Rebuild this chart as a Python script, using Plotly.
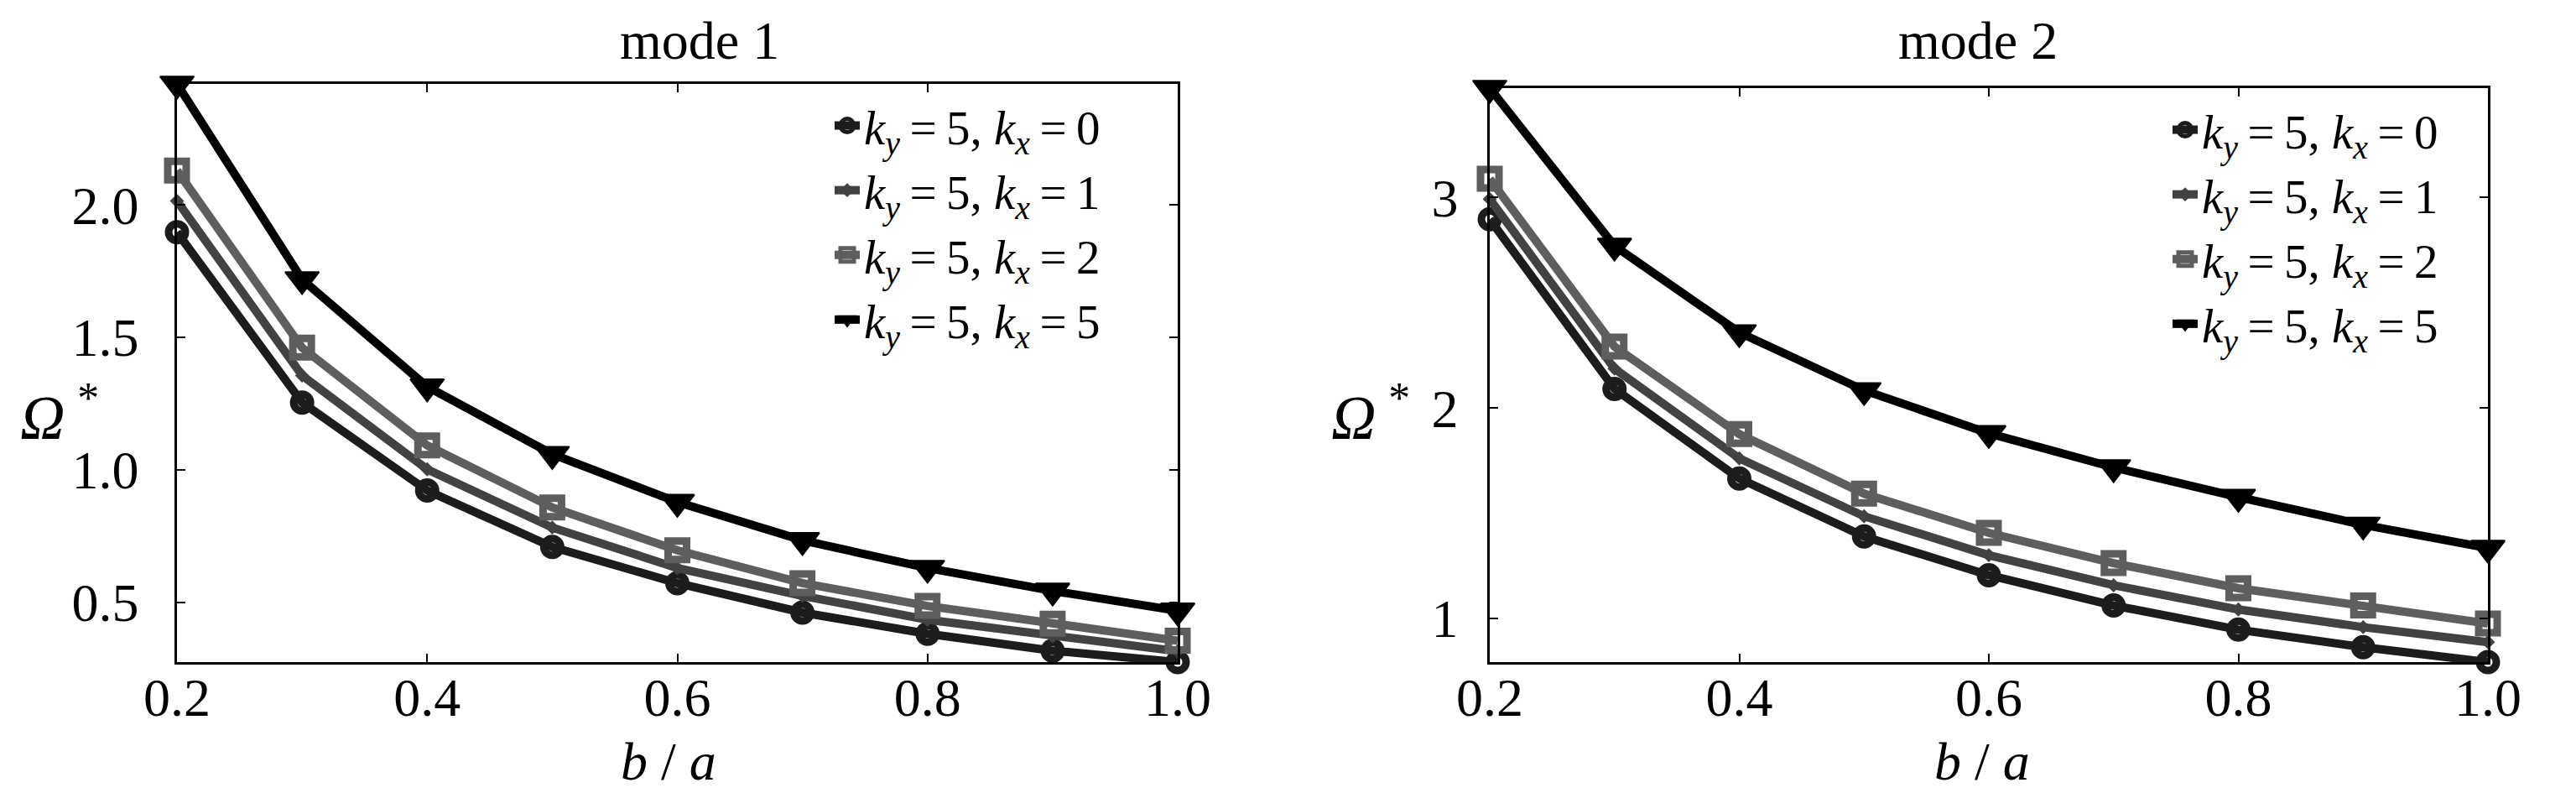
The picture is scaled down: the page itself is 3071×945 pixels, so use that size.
import plotly.graph_objects as go

# ---------------- data ----------------
b_over_a = [0.2, 0.3, 0.4, 0.5, 0.6, 0.7, 0.8, 0.9, 1.0]

TS = "\u2009"  # thin space around "="
legend_labels = [
    f"<i>k</i><sub><i>y</i></sub>{TS}={TS}5, <i>k</i><sub><i>x</i></sub>{TS}={TS}0",
    f"<i>k</i><sub><i>y</i></sub>{TS}={TS}5, <i>k</i><sub><i>x</i></sub>{TS}={TS}1",
    f"<i>k</i><sub><i>y</i></sub>{TS}={TS}5, <i>k</i><sub><i>x</i></sub>{TS}={TS}2",
    f"<i>k</i><sub><i>y</i></sub>{TS}={TS}5, <i>k</i><sub><i>x</i></sub>{TS}={TS}5",
]

mode1_k0 = [1.897, 1.254, 0.922, 0.709, 0.572, 0.461, 0.381, 0.317, 0.274]
mode1_k1 = [2.015, 1.356, 1.002, 0.782, 0.629, 0.524, 0.434, 0.371, 0.315]
mode1_k2 = [2.130, 1.461, 1.092, 0.858, 0.696, 0.572, 0.486, 0.419, 0.355]
mode1_k5 = [2.457, 1.719, 1.314, 1.059, 0.878, 0.734, 0.629, 0.543, 0.468]

mode2_k0 = [2.897, 2.091, 1.665, 1.390, 1.206, 1.062, 0.947, 0.864, 0.793]
mode2_k1 = [2.993, 2.187, 1.761, 1.486, 1.301, 1.158, 1.043, 0.959, 0.888]
mode2_k2 = [3.089, 2.292, 1.876, 1.593, 1.407, 1.263, 1.144, 1.062, 0.976]
mode2_k5 = [3.520, 2.770, 2.359, 2.084, 1.880, 1.718, 1.577, 1.445, 1.335]

x_ticks = [0.2, 0.4, 0.6, 0.8, 1.0]
y_ticks_mode1 = [0.5, 1.0, 1.5, 2.0]
y_ticks_mode2 = [1, 2, 3]
titles = ["mode 1", "mode 2"]

# ---------------- styles ----------------
FONT = "Liberation Serif"
styles = [
    dict(color="#1c1c1c", symbol="circle-open", size=20, mline=9, mcolor="#1c1c1c"),
    dict(color="#424242", symbol="diamond", size=13, mline=0, mcolor="#424242"),
    dict(color="#5e5e5e", symbol="square-open", size=22, mline=9, mcolor="#5e5e5e"),
    dict(color="#000000", symbol="triangle-down", size=35, mline=2, mcolor="#000000"),
]

fig = go.Figure()

mode_data = [
    [mode1_k0, mode1_k1, mode1_k2, mode1_k5],
    [mode2_k0, mode2_k1, mode2_k2, mode2_k5],
]

for m, data in enumerate(mode_data):
    xa = "x" if m == 0 else "x2"
    ya = "y" if m == 0 else "y2"
    lg = "legend" if m == 0 else "legend2"
    for i, ys in enumerate(data):
        s = styles[i]
        fig.add_trace(go.Scatter(
            x=b_over_a, y=ys, mode="lines+markers",
            name=legend_labels[i], xaxis=xa, yaxis=ya, legend=lg,
            line=dict(color=s["color"], width=10),
            marker=dict(symbol=s["symbol"], size=s["size"], color=s["mcolor"],
                        line=dict(color=s["mcolor"], width=s["mline"])),
            cliponaxis=False,
        ))

def yrange(data):
    lo = min(min(d) for d in data)
    hi = max(max(d) for d in data)
    return [lo, hi]

axis_common = dict(
    showline=True, linecolor="black", linewidth=2.5, mirror="ticks",
    ticks="inside", ticklen=10, tickwidth=2, tickcolor="black",
    showgrid=False, zeroline=False, automargin=False,
    tickfont=dict(family=FONT, size=64, color="black"),
)

W, H = 3071, 945
fig.update_layout(
    width=W, height=H,
    margin=dict(l=0, r=0, t=0, b=0, pad=0, autoexpand=False),
    paper_bgcolor="white", plot_bgcolor="white",
    font=dict(family=FONT, color="black"),
    xaxis=dict(domain=[203 / W, 1396 / W], range=[0.2, 1.0], tickvals=x_ticks,
               tickformat=".1f", anchor="y", ticklabelstandoff=-16, **axis_common),
    yaxis=dict(domain=[1 - 781 / H, 1 - 92 / H], range=yrange(mode_data[0]),
               tickvals=y_ticks_mode1, tickformat=".1f", anchor="x",
               ticklabelstandoff=30, **axis_common),
    xaxis2=dict(domain=[1768 / W, 2958 / W], range=[0.2, 1.0], tickvals=x_ticks,
                tickformat=".1f", anchor="y2", ticklabelstandoff=-16, **axis_common),
    yaxis2=dict(domain=[1 - 781 / H, 1 - 97 / H], range=yrange(mode_data[1]),
                tickvals=y_ticks_mode2, tickformat="d", anchor="x2",
                ticklabelstandoff=22, **axis_common),
    legend=dict(x=(1030 - 48) / W, y=1 - 98 / H, xanchor="left", yanchor="top",
                bgcolor="rgba(0,0,0,0)", borderwidth=0,
                font=dict(family=FONT, size=57, color="black"),
                tracegroupgap=0, itemwidth=30),
    legend2=dict(x=(2625 - 48) / W, y=1 - 103 / H, xanchor="left", yanchor="top",
                 bgcolor="rgba(0,0,0,0)", borderwidth=0,
                 font=dict(family=FONT, size=57, color="black"),
                 tracegroupgap=0, itemwidth=30),
    showlegend=True,
)

ann_font = dict(family=FONT, size=64, color="black")
omega_font = dict(family=FONT, size=74, color="black")
omega_text = "<i>Ω</i>\u2009<sup>*</sup>"
annotations = [
    dict(text=titles[0], x=826 / W, y=1 - 40 / H, font=ann_font),
    dict(text=titles[1], x=2350 / W, y=1 - 40 / H, font=ann_font),
    dict(text="<i>b</i> / <i>a</i>", x=789 / W, y=1 - 899 / H, font=ann_font),
    dict(text="<i>b</i> / <i>a</i>", x=2355 / W, y=1 - 899 / H, font=ann_font),
    dict(text=omega_text, x=63 / W, y=1 - 484 / H, font=omega_font),
    dict(text=omega_text, x=1626 / W, y=1 - 484 / H, font=omega_font),
]
for a in annotations:
    fig.add_annotation(xref="paper", yref="paper", showarrow=False,
                       xanchor="center", yanchor="middle", **a)

fig.write_html("out.html")
